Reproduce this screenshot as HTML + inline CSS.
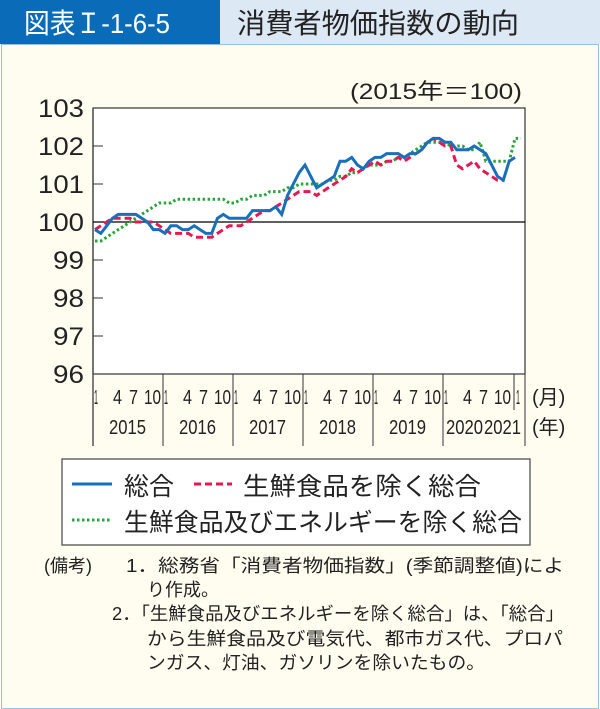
<!DOCTYPE html>
<html><head><meta charset="utf-8"><style>
body{margin:0;width:600px;height:709px;background:#fff;font-family:"Liberation Sans","Noto Sans CJK JP",sans-serif;position:relative;overflow:hidden}
.hd1{position:absolute;left:0;top:0;width:220px;height:44px;background:#0a6cb8}
.hd2{position:absolute;left:220px;top:0;width:380px;height:44px;background:#dde8f5}
.box{position:absolute;left:1px;top:44px;width:596px;height:663px;background:#fffdf0;border:1px solid #9cc0e0}
</style></head><body>
<div class="hd1"></div>
<div class="hd2"></div>
<div class="box"></div>
<svg width="600" height="709" style="position:absolute;left:0;top:0" font-family="Liberation Sans, Noto Sans CJK JP, sans-serif">
<text x="24" y="33" font-size="28" fill="#fff" textLength="146" lengthAdjust="spacingAndGlyphs">図表Ｉ-1-6-5</text>
<text x="237" y="33" font-size="28" fill="#222" textLength="282" lengthAdjust="spacingAndGlyphs">消費者物価指数の動向</text>
<rect x="93" y="108" width="432" height="266" fill="#fff" stroke="#333" stroke-width="1.2"/>
<line x1="93" y1="108" x2="93" y2="446" stroke="#555" stroke-width="1.5"/>
<line x1="93" y1="222" x2="525" y2="222" stroke="#000" stroke-width="1.2"/>
<g stroke="#333" stroke-width="1"><line x1="93" y1="146" x2="103" y2="146"/><line x1="93" y1="184" x2="103" y2="184"/><line x1="93" y1="260" x2="103" y2="260"/><line x1="93" y1="298" x2="103" y2="298"/><line x1="93" y1="336" x2="103" y2="336"/>
<line x1="163" y1="374" x2="163" y2="446"/><line x1="233" y1="374" x2="233" y2="446"/><line x1="303" y1="374" x2="303" y2="446"/><line x1="373" y1="374" x2="373" y2="446"/><line x1="443" y1="374" x2="443" y2="446"/><line x1="514" y1="374" x2="514" y2="410"/><line x1="525" y1="374" x2="525" y2="446"/></g>
<g font-size="25" fill="#222"><text x="38" y="117" textLength="46" lengthAdjust="spacingAndGlyphs">103</text><text x="38" y="155" textLength="46" lengthAdjust="spacingAndGlyphs">102</text><text x="38" y="193" textLength="46" lengthAdjust="spacingAndGlyphs">101</text><text x="38" y="231" textLength="46" lengthAdjust="spacingAndGlyphs">100</text><text x="53" y="269" textLength="31" lengthAdjust="spacingAndGlyphs">99</text><text x="53" y="307" textLength="31" lengthAdjust="spacingAndGlyphs">98</text><text x="53" y="345" textLength="31" lengthAdjust="spacingAndGlyphs">97</text><text x="53" y="383" textLength="31" lengthAdjust="spacingAndGlyphs">96</text></g>
<text x="350" y="99" font-size="22" fill="#222" textLength="172" lengthAdjust="spacingAndGlyphs">(2015年＝100)</text>
<g id="ax" font-size="20" fill="#222"></g>
<text x="532" y="404" font-size="20" fill="#222">(月)</text>
<text x="532" y="434" font-size="20" fill="#222">(年)</text>
<g id="series"></g>
<rect x="62" y="459" width="468" height="86" fill="#fff" stroke="#444" stroke-width="1.2"/>
<line x1="72" y1="484" x2="112" y2="484" stroke="#1a6fbd" stroke-width="3"/>
<text x="124" y="495" font-size="25" fill="#222">総合</text>
<line x1="194" y1="484" x2="232" y2="484" stroke="#e5194f" stroke-width="3" stroke-dasharray="7,4"/>
<text x="243" y="495" font-size="25" fill="#222" textLength="238" lengthAdjust="spacingAndGlyphs">生鮮食品を除く総合</text>
<line x1="72" y1="520" x2="112" y2="520" stroke="#2aa53a" stroke-width="3" stroke-dasharray="2.5,2.5"/>
<text x="124" y="531" font-size="25" fill="#222" textLength="398" lengthAdjust="spacingAndGlyphs">生鮮食品及びエネルギーを除く総合</text>
<g font-size="18" fill="#222"><text x="44" y="572">(備考)</text><text x="126" y="572" textLength="438" lengthAdjust="spacingAndGlyphs">1．総務省「消費者物価指数」(季節調整値)によ</text>
<text x="147" y="596">り作成。</text>
<text x="112" y="620" textLength="452" lengthAdjust="spacingAndGlyphs">2．「生鮮食品及びエネルギーを除く総合」は、「総合」</text>
<text x="147" y="645" textLength="416" lengthAdjust="spacingAndGlyphs">から生鮮食品及び電気代、都市ガス代、プロパ</text>
<text x="147" y="669" textLength="338" lengthAdjust="spacingAndGlyphs">ンガス、灯油、ガソリンを除いたもの。</text></g>
</svg>
<script>
var b=[99.8,99.7,99.9,100.1,100.2,100.2,100.2,100.2,100.1,100,99.8,99.8,99.7,99.9,99.9,99.8,99.8,99.9,99.8,99.7,99.7,100.1,100.2,100.1,100.1,100.1,100.1,100.3,100.3,100.3,100.3,100.4,100.2,100.7,101.0,101.3,101.5,101.2,100.9,101.0,101.1,101.2,101.6,101.6,101.7,101.5,101.4,101.6,101.7,101.7,101.8,101.8,101.8,101.7,101.8,101.8,101.9,102.1,102.2,102.2,102.1,102.1,101.9,101.9,101.9,102.0,101.9,101.8,101.5,101.2,101.1,101.6,101.7];
var r=[99.8,99.9,100.0,100.1,100.1,100.1,100.1,100.0,100.0,100.0,100.0,99.9,99.8,99.7,99.7,99.7,99.7,99.6,99.6,99.6,99.6,99.7,99.8,99.9,99.9,99.9,100.0,100.1,100.2,100.3,100.3,100.4,100.5,100.6,100.7,100.8,100.8,100.8,100.7,100.8,100.9,101.0,101.1,101.2,101.4,101.3,101.4,101.5,101.6,101.5,101.6,101.6,101.7,101.6,101.7,101.8,101.9,102.1,102.2,102.1,102.0,102.0,101.5,101.4,101.5,101.6,101.4,101.3,101.2,101.1,101.1];
var g=[99.5,99.5,99.6,99.7,99.8,99.9,100.0,100.1,100.2,100.3,100.4,100.5,100.5,100.5,100.6,100.6,100.6,100.6,100.6,100.6,100.6,100.6,100.6,100.5,100.5,100.6,100.6,100.7,100.7,100.7,100.8,100.8,100.8,100.9,100.9,101.0,101.0,101.0,101.0,101.0,101.1,101.1,101.2,101.2,101.3,101.3,101.4,101.5,101.5,101.5,101.6,101.6,101.7,101.7,101.8,101.9,102.0,102.1,102.1,102.1,102.1,102.0,102.0,102.0,101.9,101.9,102.1,101.6,101.6,101.6,101.6,101.6,102.2,102.2];
function pts(a){return a.map(function(v,i){return (95+i*70/12).toFixed(1)+","+(222-(v-100)*38).toFixed(1)}).join(" ")}
var s='<polyline points="'+pts(g)+'" fill="none" stroke="#2aa53a" stroke-width="3" stroke-dasharray="2.5,2.5"/>'+
'<polyline points="'+pts(r)+'" fill="none" stroke="#e5194f" stroke-width="3" stroke-dasharray="7,4"/>'+
'<polyline points="'+pts(b)+'" fill="none" stroke="#1a6fbd" stroke-width="3"/>';
document.getElementById("series").innerHTML=s;
var a='';var yrs=[2015,2016,2017,2018,2019,2020];
function t(x,y,s,w){return '<text x="'+x+'" y="'+y+'" textLength="'+w+'" lengthAdjust="spacingAndGlyphs">'+s+'</text>'}
for(var y=0;y<6;y++){var x0=93+y*70;
a+=t(x0+1,404,"1",4)+t(x0+20,404,"4",9)+t(x0+36,404,"7",9)+t(x0+51,404,"10",17);
a+=t(yrs[y]==2020?x0+3:x0+16,434,yrs[y],37);}
a+=t(516,404,"1",4)+t(484,434,"2021",37);
document.getElementById("ax").innerHTML=a;
</script>
</body></html>
